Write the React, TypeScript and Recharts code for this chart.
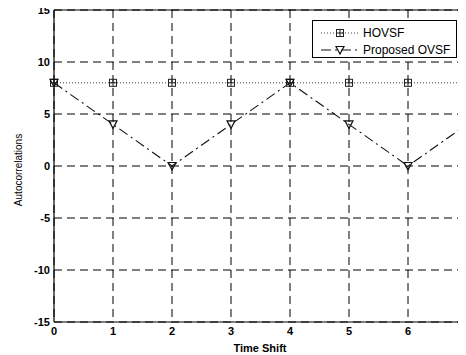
import React from 'react';
import { LineChart, Line, XAxis, YAxis, CartesianGrid, ReferenceLine, Label } from 'recharts';

const timeShifts = [0, 1, 2, 3, 4, 5, 6, 7];
const hovsfValues = [8, 8, 8, 8, 8, 8, 8, 8];
const proposedValues = [8, 4, 0, 4, 8, 4, 0, 4];
const xTicks = [0, 1, 2, 3, 4, 5, 6, 7];
const yTicks = [-15, -10, -5, 0, 5, 10, 15];
const seriesNames = ['HOVSF', 'Proposed OVSF'];

const data = timeShifts.map((t, i) => ({ t, hovsf: hovsfValues[i], proposed: proposedValues[i] }));

const SquareDot = (props: any) => {
  const { cx, cy } = props;
  if (cx == null || cy == null) return null;
  return (
    <g key={`s-${cx}`}>
      <rect x={cx - 3.5} y={cy - 3.5} width={7} height={7} fill="none" stroke="#222" strokeWidth={1} />
      <line x1={cx} y1={cy - 4} x2={cx} y2={cy + 4} stroke="#222" strokeWidth={1} />
      <line x1={cx - 3} y1={cy} x2={cx + 3} y2={cy} stroke="#222" strokeWidth={1} />
    </g>
  );
};

const TriDot = (props: any) => {
  const { cx, cy } = props;
  if (cx == null || cy == null) return null;
  return (
    <polygon
      key={`t-${cx}`}
      points={`${cx - 4},${cy - 3.5} ${cx + 4},${cy - 3.5} ${cx},${cy + 4}`}
      fill="none"
      stroke="#111"
      strokeWidth={1.2}
    />
  );
};

const FONT = 'Arial, "Liberation Sans", sans-serif';
const tickStyle = { fontFamily: FONT, fontSize: 11, fontWeight: 700, fill: '#000' };

export default function App() {
  return (
    <div style={{ position: 'relative', width: 458, height: 355, marginTop: -8, overflow: 'hidden', background: '#fff' }}>
      <LineChart width={470} height={355} data={data} margin={{ top: 10, right: 11, bottom: 8, left: 6 }}>
        <CartesianGrid stroke="#000" strokeDasharray="8 5" strokeWidth={1} />
        <XAxis
          dataKey="t"
          type="number"
          domain={[0, 7]}
          ticks={xTicks}
          height={25}
          axisLine={{ stroke: '#000', strokeWidth: 1.2 }}
          tickLine={false}
          tickSize={5}
          tickMargin={0}
          tick={tickStyle}
          interval={0}
        >
          <Label
            content={() => (
              <text x={252} y={352} textAnchor="middle" fontFamily={FONT} fontSize={11} fontWeight={700} fill="#000">
                Time Shift
              </text>
            )}
          />
        </XAxis>
        <YAxis
          type="number"
          domain={[-15, 15]}
          ticks={yTicks}
          width={40}
          axisLine={{ stroke: '#000', strokeWidth: 1.2 }}
          tickLine={false}
          tickSize={4}
          tickMargin={0}
          tick={tickStyle}
          interval={0}
        >
          <Label
            content={() => (
              <text
                x={14}
                y={170}
                textAnchor="middle"
                transform="rotate(-90, 14, 170)"
                fontFamily={FONT}
                fontSize={10}
                fill="#000"
              >
                Autocorrelations
              </text>
            )}
          />
        </YAxis>
        <ReferenceLine y={15} stroke="#000" strokeWidth={1.2} />
        <Line
          dataKey="hovsf"
          name={seriesNames[0]}
          stroke="#444"
          strokeWidth={1}
          strokeDasharray="1 2"
          dot={SquareDot}
          isAnimationActive={false}
        />
        <Line
          dataKey="proposed"
          name={seriesNames[1]}
          stroke="#111"
          strokeWidth={1.1}
          strokeDasharray="10 4 2 4"
          dot={TriDot}
          isAnimationActive={false}
        />
      </LineChart>
      <div
        style={{
          position: 'absolute',
          left: 304,
          top: 20,
          width: 143,
          height: 36,
          border: '1px solid #000',
          background: '#fff',
        }}
      >
        <svg width={143} height={36} style={{ position: 'absolute', left: 0, top: 0 }}>
          <line x1={8} y1={12} x2={46} y2={12} stroke="#444" strokeDasharray="1 2" />
          <SquareDot cx={27} cy={12} />
          <line x1={8} y1={29} x2={46} y2={29} stroke="#111" strokeDasharray="10 4 2 4" />
          <TriDot cx={27} cy={29} />
          <text x={50} y={16} fontSize={12} fontFamily={FONT} fill="#000">{seriesNames[0]}</text>
          <text x={50} y={33} fontSize={12} fontFamily={FONT} fill="#000">{seriesNames[1]}</text>
        </svg>
      </div>
    </div>
  );
}
